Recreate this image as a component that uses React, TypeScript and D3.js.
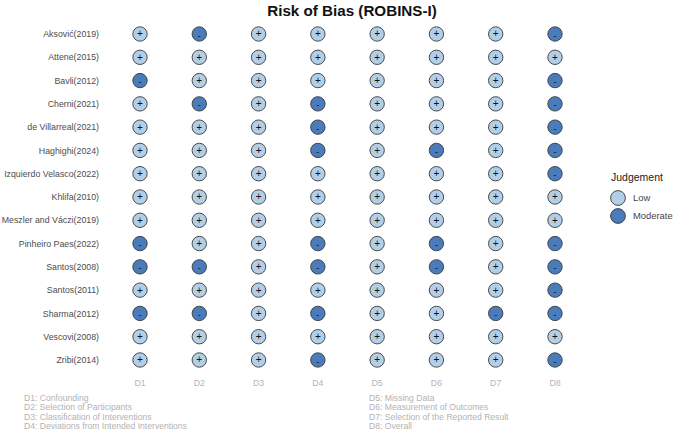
import React, { useEffect, useRef } from 'react'
import * as d3 from 'd3'

const studies = [
  'Aksović(2019)',
  'Attene(2015)',
  'Bavli(2012)',
  'Cherni(2021)',
  'de Villarreal(2021)',
  'Haghighi(2024)',
  'Izquierdo Velasco(2022)',
  'Khlifa(2010)',
  'Meszler and Váczi(2019)',
  'Pinheiro Paes(2022)',
  'Santos(2008)',
  'Santos(2011)',
  'Sharma(2012)',
  'Vescovi(2008)',
  'Zribi(2014)',
]

const domains = ['D1', 'D2', 'D3', 'D4', 'D5', 'D6', 'D7', 'D8']

// one row per study, D1..D8
const judgements = [
  ['Low', 'Moderate', 'Low', 'Low', 'Low', 'Low', 'Low', 'Moderate'],
  ['Low', 'Low', 'Low', 'Low', 'Low', 'Low', 'Low', 'Low'],
  ['Moderate', 'Low', 'Low', 'Low', 'Low', 'Low', 'Low', 'Moderate'],
  ['Low', 'Moderate', 'Low', 'Moderate', 'Low', 'Low', 'Low', 'Moderate'],
  ['Low', 'Low', 'Low', 'Moderate', 'Low', 'Low', 'Low', 'Moderate'],
  ['Low', 'Low', 'Low', 'Moderate', 'Low', 'Moderate', 'Low', 'Moderate'],
  ['Low', 'Low', 'Low', 'Low', 'Low', 'Low', 'Low', 'Moderate'],
  ['Low', 'Low', 'Low', 'Low', 'Low', 'Low', 'Low', 'Low'],
  ['Low', 'Low', 'Low', 'Low', 'Low', 'Low', 'Low', 'Low'],
  ['Moderate', 'Low', 'Low', 'Moderate', 'Low', 'Moderate', 'Low', 'Moderate'],
  ['Moderate', 'Moderate', 'Low', 'Moderate', 'Low', 'Moderate', 'Low', 'Moderate'],
  ['Low', 'Low', 'Low', 'Low', 'Low', 'Low', 'Low', 'Moderate'],
  ['Moderate', 'Moderate', 'Low', 'Moderate', 'Low', 'Low', 'Moderate', 'Moderate'],
  ['Low', 'Low', 'Low', 'Low', 'Low', 'Low', 'Low', 'Low'],
  ['Low', 'Low', 'Low', 'Moderate', 'Low', 'Low', 'Low', 'Moderate'],
]

const levels = ['Low', 'Moderate']
const levelColors = ['#b3cfe8', '#4a7bbb']
const levelSymbols = ['+', '-']

const domainNotes = [
  'D1: Confounding',
  'D2: Selection of Participants',
  'D3: Classification of Interventions',
  'D4: Deviations from Intended Interventions',
  'D5: Missing Data',
  'D6: Measurement of Outcomes',
  'D7: Selection of the Reported Result',
  'D8: Overall',
]

const W = 676
const H = 431
const FONT = 'Liberation Sans, Arial, sans-serif'

export default function App() {
  const ref = useRef<SVGSVGElement>(null)

  useEffect(() => {
    document.body.style.margin = '0'
    const svg = d3.select(ref.current)
    svg.selectAll('*').remove()

    const x = d3.scalePoint<string>().domain(domains).range([140, 555])
    const y = d3.scalePoint<string>().domain(studies).range([34, 360])
    const fill = d3.scaleOrdinal<string, string>().domain(levels).range(levelColors)
    const symbol = d3.scaleOrdinal<string, string>().domain(levels).range(levelSymbols)

    svg.append('text')
      .attr('x', 352)
      .attr('y', 15.5)
      .attr('text-anchor', 'middle')
      .attr('font-family', FONT)
      .attr('font-weight', 'bold')
      .attr('font-size', 15.2)
      .attr('fill', '#111')
      .text('Risk of Bias (ROBINS-I)')

    // study labels
    svg.append('g')
      .selectAll('text')
      .data(studies)
      .join('text')
      .attr('x', 99)
      .attr('y', d => y(d)!)
      .attr('dy', '0.35em')
      .attr('text-anchor', 'end')
      .attr('font-family', FONT)
      .attr('font-size', 8.8)
      .attr('fill', '#4d4d4d')
      .text(d => d)

    // domain labels
    svg.append('g')
      .selectAll('text')
      .data(domains)
      .join('text')
      .attr('x', d => x(d)!)
      .attr('y', 383)
      .attr('dy', '0.35em')
      .attr('text-anchor', 'middle')
      .attr('font-family', FONT)
      .attr('font-size', 8.8)
      .attr('fill', '#b5b5b5')
      .text(d => d)

    const cells = judgements.flatMap((row, i) =>
      row.map((j, k) => ({ study: studies[i], domain: domains[k], judgement: j })))

    const cell = svg.append('g')
      .selectAll('g')
      .data(cells)
      .join('g')
      .attr('transform', d => `translate(${x(d.domain)},${y(d.study)})`)

    cell.append('circle')
      .attr('r', 7.2)
      .attr('fill', d => fill(d.judgement))
      .attr('stroke', '#3a3a3a')
      .attr('stroke-width', 0.9)

    cell.append('text')
      .attr('y', d => d.judgement === 'Low' ? 3.4 : 4.6)
      .attr('text-anchor', 'middle')
      .attr('font-family', FONT)
      .attr('font-size', d => d.judgement === 'Low' ? 10 : 9)
      .attr('fill', '#111')
      .text(d => symbol(d.judgement))

    // legend
    const legend = svg.append('g')
    legend.append('text')
      .attr('x', 611)
      .attr('y', 181)
      .attr('font-family', FONT)
      .attr('font-size', 10.5)
      .attr('fill', '#222')
      .text('Judgement')

    const key = legend.selectAll('g')
      .data(levels)
      .join('g')
      .attr('transform', (d, i) => `translate(618,${198 + i * 18})`)

    key.append('circle')
      .attr('r', 7.4)
      .attr('fill', d => fill(d))
      .attr('stroke', '#3a3a3a')
      .attr('stroke-width', 0.9)

    key.append('text')
      .attr('x', 15)
      .attr('dy', '0.35em')
      .attr('font-family', FONT)
      .attr('font-size', 9.4)
      .attr('fill', '#444')
      .text(d => d)

    // domain descriptions, two columns of four
    svg.append('g')
      .selectAll('text')
      .data(domainNotes)
      .join('text')
      .attr('x', (d, i) => i < 4 ? 24 : 369)
      .attr('y', (d, i) => 401 + (i % 4) * 9.3)
      .attr('font-family', FONT)
      .attr('font-size', 8.6)
      .attr('fill', '#b3b3b3')
      .text(d => d)
  }, [])

  return <svg ref={ref} width={W} height={H} style={{ display: 'block', background: '#fff' }} />
}
